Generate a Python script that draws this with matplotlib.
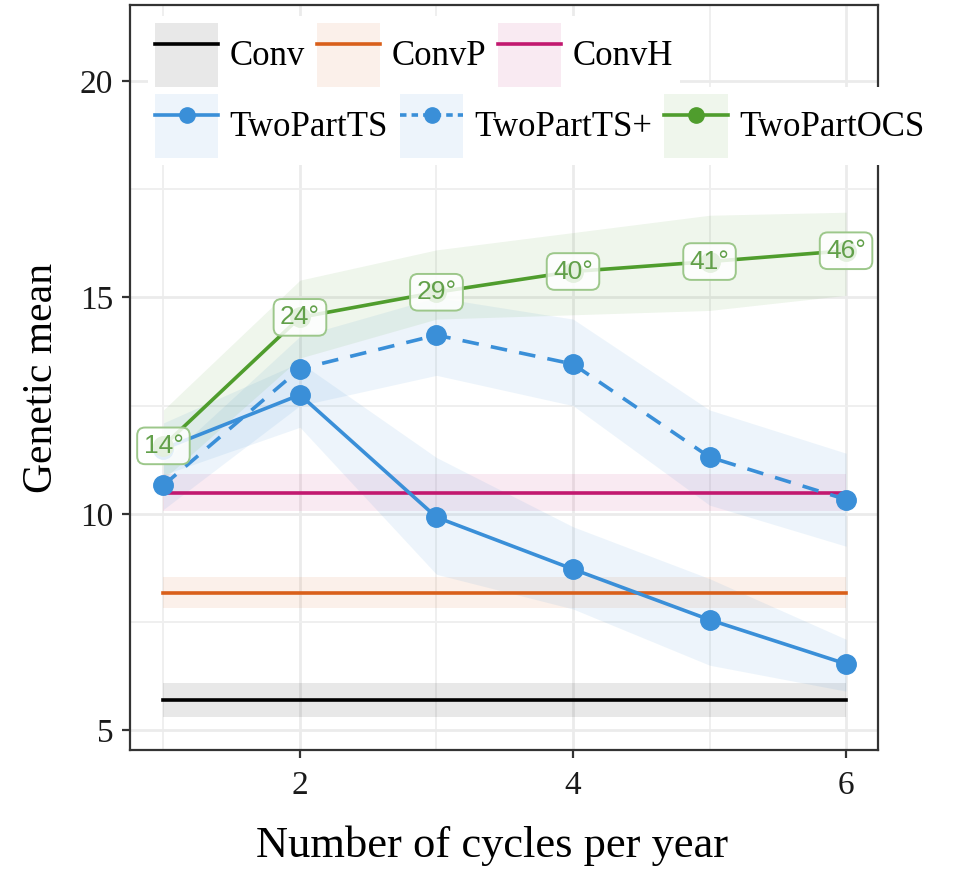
import matplotlib
matplotlib.use("Agg")
import matplotlib.pyplot as plt
from matplotlib.lines import Line2D
from matplotlib.patches import Patch
from matplotlib.ticker import FixedLocator

plt.rcParams['font.family'] = ['Liberation Serif', 'DejaVu Serif']

# ---- data ----
cycles = [1, 2, 3, 4, 5, 6]

conv_mean, conv_lo, conv_hi = 5.70, 5.30, 6.10
convp_mean, convp_lo, convp_hi = 8.18, 7.82, 8.55
convh_mean, convh_lo, convh_hi = 10.49, 10.06, 10.92

ts_mean = [11.50, 12.75, 9.92, 8.72, 7.55, 6.53]
ts_lo = [10.9, 12.0, 8.6, 7.8, 6.5, 5.9]
ts_hi = [12.1, 13.5, 11.3, 9.7, 8.5, 7.1]

tsp_mean = [10.66, 13.35, 14.13, 13.46, 11.31, 10.33]
tsp_lo = [10.1, 12.5, 13.2, 12.5, 10.2, 9.25]
tsp_hi = [11.2, 14.1, 15.0, 14.5, 12.4, 11.4]

ocs_mean = [11.57, 14.54, 15.12, 15.60, 15.83, 16.08]
ocs_lo = [10.8, 13.6, 14.5, 14.6, 14.7, 15.05]
ocs_hi = [12.4, 15.4, 16.1, 16.5, 16.9, 16.97]
ocs_angle = ['14°', '24°', '29°', '40°', '41°', '46°']

labels_conv = ['Conv', 'ConvP', 'ConvH']
labels_two = ['TwoPartTS', 'TwoPartTS+', 'TwoPartOCS']

# ---- styles ----
c_conv = '#000000'
c_convp = '#D95F1A'
c_convh = '#C2186F'
c_ts = '#3A8FD8'
c_ocs = '#4F9D2D'
band_alpha = 0.09
lw = 2.6
ms = 14
dash = (4.6, 3.4)

fig = plt.figure(figsize=(9.55, 8.69), dpi=100)
ax = fig.add_axes([130 / 955, 119 / 869, 748 / 955, 745 / 869])

n = len(cycles)
# flat reference programmes
for mean, lo, hi, col in [(conv_mean, conv_lo, conv_hi, c_conv),
                          (convp_mean, convp_lo, convp_hi, c_convp),
                          (convh_mean, convh_lo, convh_hi, c_convh)]:
    ax.fill_between(cycles, [lo] * n, [hi] * n, color=col, alpha=band_alpha,
                    lw=0, zorder=2)

# two-part programme ribbons
ax.fill_between(cycles, ts_lo, ts_hi, color=c_ts, alpha=band_alpha, lw=0, zorder=2)
ax.fill_between(cycles, tsp_lo, tsp_hi, color=c_ts, alpha=band_alpha, lw=0, zorder=2)
ax.fill_between(cycles, ocs_lo, ocs_hi, color=c_ocs, alpha=band_alpha, lw=0, zorder=2)

for mean, col in [(conv_mean, c_conv), (convp_mean, c_convp), (convh_mean, c_convh)]:
    ax.plot(cycles, [mean] * n, color=col, lw=lw, zorder=3)

ax.plot(cycles, ts_mean, color=c_ts, lw=lw, marker='o', ms=ms, zorder=4)
ax.plot(cycles, tsp_mean, color=c_ts, lw=lw, ls=(0, dash), marker='o', ms=ms, zorder=4)
ax.plot(cycles, ocs_mean, color=c_ocs, lw=lw, marker='o', ms=ms, zorder=4)

for x, y, s in zip(cycles, ocs_mean, ocs_angle):
    ax.text(x, y, s, ha='center', va='center', fontsize=19, color='#62A04A',
            family=['Liberation Sans', 'DejaVu Sans'], zorder=6,
            bbox=dict(boxstyle='round,pad=0.24,rounding_size=0.3',
                      fc=(1, 1, 1, 0.85), ec='#9CC78A', lw=1.4))

# ---- axes ----
ax.set_xlim(0.755, 6.234)
ax.set_ylim(4.54, 21.76)
ax.set_xticks([2, 4, 6])
ax.set_yticks([5, 10, 15, 20])
ax.xaxis.set_minor_locator(FixedLocator([1, 3, 5]))
ax.yaxis.set_minor_locator(FixedLocator([7.5, 12.5, 17.5]))
ax.set_axisbelow(True)
ax.grid(which='major', color='#EBEBEB', lw=2.0, zorder=0)
ax.grid(which='minor', color='#EFEFEF', lw=1.4, zorder=0)
ax.tick_params(which='major', length=6, width=1.6, color='#333333',
               labelsize=24, labelcolor='#1A1A1A')
ax.tick_params(axis='x', which='major', pad=9)
ax.tick_params(axis='y', which='major', pad=6)
ax.tick_params(which='minor', length=0)
for sp in ax.spines.values():
    sp.set_color('#333333')
    sp.set_linewidth(1.6)

ax.set_xlabel('Number of cycles per year', fontsize=32)
ax.xaxis.set_label_coords(0.484, -0.102)
ax.set_ylabel('Genetic mean', fontsize=30, labelpad=14)

# ---- legends ----
def key(col, marker=None, ls='-'):
    band = Patch(facecolor=col, alpha=band_alpha, edgecolor='none')
    line = Line2D([], [], color=col, lw=lw, ls=ls, marker=marker, ms=11)
    return (band, line)

h1 = [key(c_conv), key(c_convp), key(c_convh)]
h2 = [key(c_ts, 'o'), key(c_ts, 'o', (0, (1.8, 1.4))), key(c_ocs, 'o')]

common = dict(ncol=3, fontsize=25, handlelength=1.83, handleheight=2.45,
              handletextpad=0.32, columnspacing=0.34, borderpad=0.2,
              borderaxespad=0, fancybox=False, edgecolor='none',
              facecolor='white', framealpha=1, numpoints=1, loc='upper left')
fig.legend(h1, labels_conv, bbox_to_anchor=(148 / 955, 1 - 16 / 869), **common)
fig.legend(h2, labels_two, bbox_to_anchor=(148 / 955, 1 - 87 / 869), **common)

fig.savefig('out.png', dpi=100)
